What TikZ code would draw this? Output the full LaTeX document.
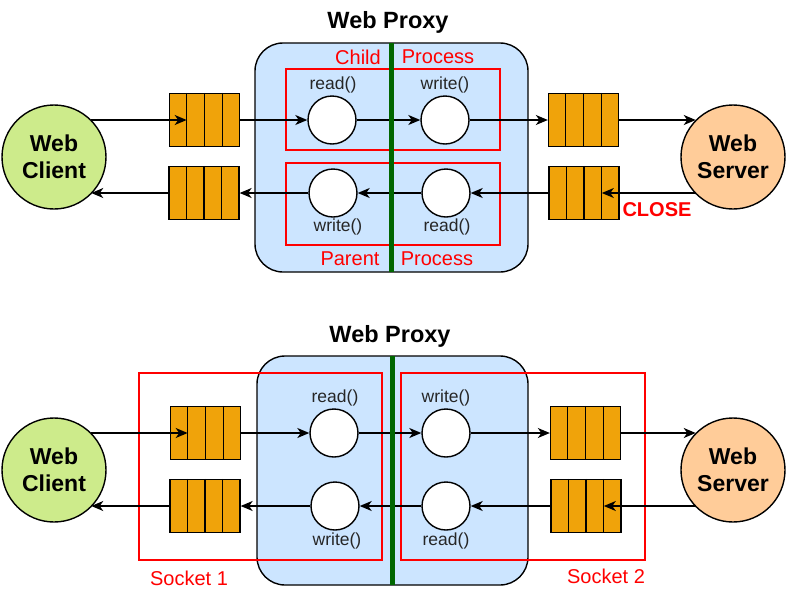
\documentclass[tikz,border=0pt]{standalone}
\usepackage{fontspec}
\setmainfont{Liberation Sans}
\usetikzlibrary{arrows.meta,calc}
\definecolor{proxyblue}{HTML}{CCE5FF}
\definecolor{qorange}{HTML}{F0A30A}
\definecolor{clientgreen}{HTML}{CDEB8B}
\definecolor{serverorange}{HTML}{FFCC99}
\definecolor{divgreen}{HTML}{006600}
\newcommand\qnode[3]{%
  \node[queue] (#1) at (#2,#3) {};
  \foreach \f in {0.25,0.5,0.75}
    \draw[line width=1.3pt] ($(#1.north west)!\f!(#1.north east)$) -- ($(#1.south west)!\f!(#1.south east)$);
  \coordinate (#1-a) at ($(#1.west)!0.25!(#1.east)$);
  \coordinate (#1-c) at ($(#1.west)!0.75!(#1.east)$);
}
\begin{document}
\begin{tikzpicture}[x=1pt,y=-1pt,
  proxy/.style={draw, fill=proxyblue, rounded corners=28pt, line width=1.4pt, inner sep=0, outer sep=0},
  queue/.style={draw, fill=qorange, minimum width=70pt, minimum height=53pt, inner sep=0, line width=1.3pt},
  proc/.style={circle, draw, fill=white, minimum size=48pt, inner sep=0, line width=1.4pt},
  host/.style={circle, draw, minimum size=104pt, inner sep=0, line width=1.4pt, align=center,
    font=\fontsize{23}{27}\selectfont\bfseries},
  arr/.style={-{Stealth[length=12pt,width=10pt,inset=3.5pt]}, line width=1.4pt},
  lbl/.style={font=\fontsize{17.5}{20}\selectfont, text=black!85, inner sep=0},
  redbox/.style={draw=red, line width=1.4pt, inner sep=0},
  redlbl/.style={text=red, font=\fontsize{20}{24}\selectfont, inner sep=0},
  title/.style={font=\fontsize{23.5}{28}\selectfont\bfseries, inner sep=0},
  divider/.style={draw=divgreen, line width=4.5pt}
]
\useasboundingbox (0,0) rectangle (788,595);

% ================= TOP =================
\node[title] (t1) at (388,22) {Web Proxy};
\node[proxy, minimum width=273pt, minimum height=229pt] (p1) at (391.5,157.5) {};
\node[redbox, minimum width=214pt, minimum height=81pt] (cp) at (393,109.5) {};
\node[redbox, minimum width=214pt, minimum height=82pt] (pp) at (393,204) {};
\node[redlbl] (cl) at (358,57) {Child};
\node[redlbl] (cpl) at (438,57) {Process};
\node[redlbl] (pl) at (350,259) {Parent};
\node[redlbl] (ppl) at (437,259) {Process};

\node[host, fill=clientgreen] (c1) at (54,157) {Web\\Client};
\node[host, fill=serverorange] (s1) at (733,157) {Web\\Server};

\qnode{q1}{204.5}{120}
\qnode{q2}{204}{193}
\qnode{q3}{583.5}{120}
\qnode{q4}{584}{193}

\node[proc] (r1) at (332,120) {};
\node[proc] (w1) at (445,120) {};
\node[proc] (w2) at (333,193) {};
\node[proc] (r2) at (446,193) {};
\node[lbl] (lr1) at (333,85) {read()};
\node[lbl] (lw1) at (445,85) {write()};
\node[lbl] (lw2) at (338,227) {write()};
\node[lbl] (lr2) at (447,227) {read()};
\node[text=red, font=\fontsize{20}{24}\selectfont\bfseries, inner sep=0] (close) at (657,210) {CLOSE};

\draw[arr] (c1.45 |- q1.center) -- (q1-a);
\draw[arr] (q1.east) -- (r1.west);
\draw[arr] (r1.east) -- (w1.west);
\draw[arr] (w1.east) -- (q3.west);
\draw[arr] (q3.east) -- (q3.east -| s1.135);
\draw[arr] (s1.-135 |- q4.center) -- (q4-c);
\draw[arr] (q4.west) -- (r2.east);
\draw[arr] (r2.west) -- (w2.east);
\draw[arr] (w2.west) -- (q2.east);
\draw[arr] (q2.west) -- (q2.west -| c1.-45);

\draw[divider] (p1.north) -- (p1.south);

% ================= BOTTOM =================
\node[title] (t2) at (390,336) {Web Proxy};
\node[proxy, minimum width=271pt, minimum height=229pt] (p2) at (392.5,470.5) {};
\node[redbox, minimum width=243pt, minimum height=187pt] (sk1) at (260.5,466.5) {};
\node[redbox, minimum width=244pt, minimum height=187pt] (sk2) at (523,466.5) {};
\node[redlbl] (sk1l) at (189,578) {Socket 1};
\node[redlbl] (sk2l) at (606,576) {Socket 2};

\node[host, fill=clientgreen] (c2) at (54,470) {Web\\Client};
\node[host, fill=serverorange] (s2) at (733,470) {Web\\Server};

\qnode{q5}{205.5}{433}
\qnode{q6}{205}{506}
\qnode{q7}{585.5}{433}
\qnode{q8}{586}{506}

\node[proc] (r3) at (334,433) {};
\node[proc] (w3) at (446,433) {};
\node[proc] (w4) at (335,506) {};
\node[proc] (r4) at (446,506) {};
\node[lbl] (lr3) at (335,398) {read()};
\node[lbl] (lw3) at (446,398) {write()};
\node[lbl] (lw4) at (337,541) {write()};
\node[lbl] (lr4) at (446,541) {read()};

\draw[arr] (c2.45 |- q5.center) -- (q5-a);
\draw[arr] (q5.east) -- (r3.west);
\draw[arr] (r3.east) -- (w3.west);
\draw[arr] (w3.east) -- (q7.west);
\draw[arr] (q7.east) -- (q7.east -| s2.135);
\draw[arr] (s2.-135 |- q8.center) -- (q8-c);
\draw[arr] (q8.west) -- (r4.east);
\draw[arr] (r4.west) -- (w4.east);
\draw[arr] (w4.west) -- (q6.east);
\draw[arr] (q6.west) -- (q6.west -| c2.-45);

\draw[divider] (p2.north) -- (p2.south);
\end{tikzpicture}
\end{document}
